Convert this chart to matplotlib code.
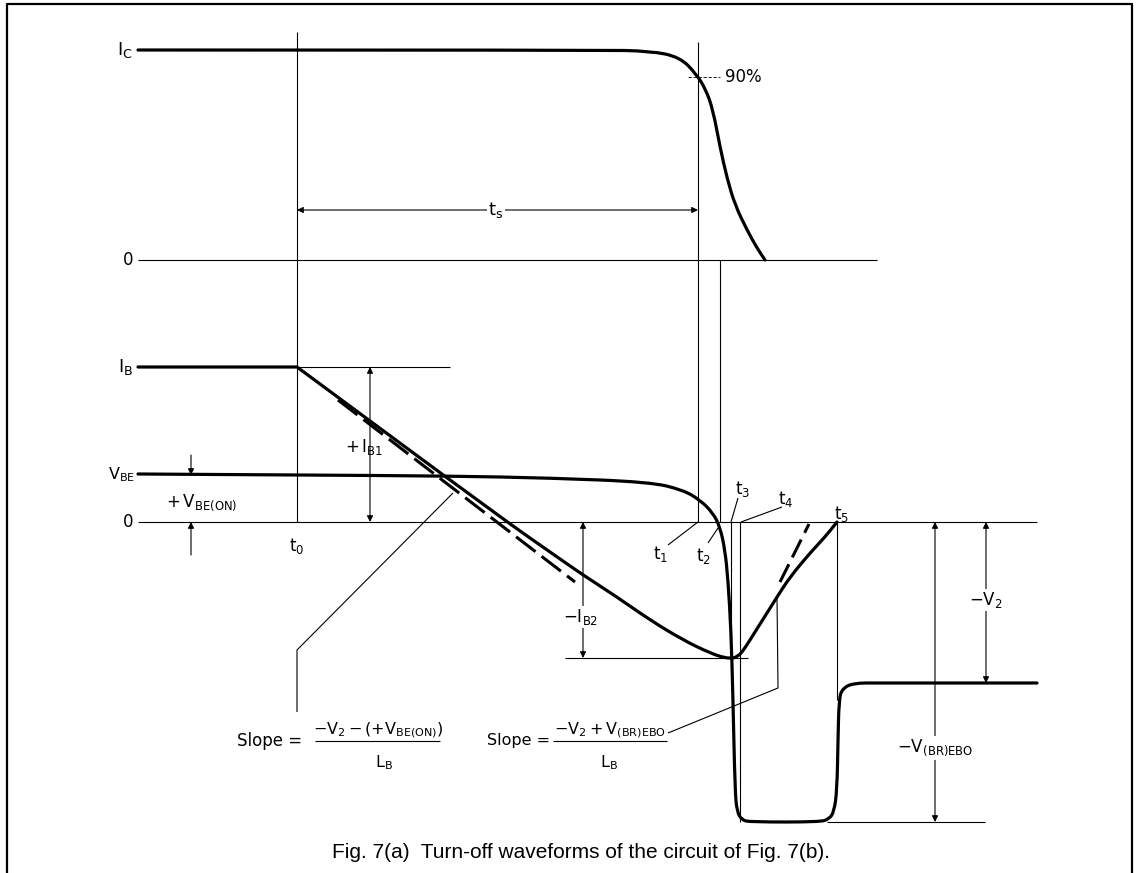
import numpy as np
import matplotlib
matplotlib.use("Agg")
from matplotlib import pyplot as plt
from matplotlib.path import Path
from matplotlib.patches import PathPatch

plt.rcParams["mathtext.fontset"] = "dejavusans"

# waveform outlines, (time, level) in drawing units
ic_wave = [(138, 50), (600, 50), (650, 51), (680, 57), (697, 75), (706, 90),
           (713, 110), (720, 147), (727, 178), (735, 205), (747, 230),
           (757, 248), (765, 260)]
ib_fall = [(138, 367), (297, 367), (297, 367), (500, 517), (550, 552), (583, 575),
           (617, 597), (650, 620), (683, 640), (710, 653), (725, 658), (733, 658)]
ib_rise = [(733, 658), (738, 657), (745, 648), (755, 632), (767, 613), (777, 597),
           (790, 577), (810, 553), (825, 537), (837, 522)]
vbe_wave = [(138, 474), (300, 475), (450, 476), (550, 478), (650, 482), (683, 490),
            (700, 500), (713, 513), (720, 527), (725, 550), (728, 580), (731, 630),
            (733, 700), (735, 790), (737, 812), (742, 820), (750, 822), (820, 822),
            (829, 819), (834, 812), (837, 790), (838, 740), (839, 700), (842, 689),
            (853, 683), (880, 683), (1037, 683)]
slope1 = [(338, 400), (575, 582)]
slope2 = [(780, 582), (809, 524)]

# reference levels and instants
t_marks = {"t0": 297, "t1": 698, "t2": 720, "t3": 731, "t4": 740, "t5": 837}
ic_on, ic_zero = 50, 260
ib_on, vbe_on, base_zero = 367, 475, 522
ib_peak_rev, v2_level, vbr_level = 658, 683, 822


def smooth(pts):
    pts = np.asarray(pts, float)
    verts, codes = [pts[0]], [Path.MOVETO]
    for i in range(1, len(pts) - 1):
        verts += [pts[i], (pts[i] + pts[i + 1]) / 2]
        codes += [Path.CURVE3, Path.CURVE3]
    verts.append(pts[-1])
    codes.append(Path.LINETO)
    return Path(verts, codes)


def thick(ax, pts):
    ax.add_patch(PathPatch(smooth(pts), fill=False, lw=2.3, ec="k",
                           capstyle="round", joinstyle="round", zorder=4))


def thin(ax, xs, ys, **kw):
    ax.plot(xs, ys, color="k", lw=0.8, solid_capstyle="butt", **kw)


def arrow(ax, a, b, style="<|-|>"):
    ax.annotate("", xy=b, xytext=a,
                arrowprops=dict(arrowstyle=style, lw=0.8, color="k",
                                mutation_scale=9, shrinkA=0, shrinkB=0))


def label(ax, x, y, s, size=12, ha="center", box=False):
    kw = {}
    if box:
        kw["bbox"] = dict(fc="white", ec="none", pad=1.0)
    ax.text(x, y, s, fontsize=size, ha=ha, va="center", zorder=6, **kw)


fig = plt.figure(figsize=(11.36, 8.73), dpi=100)
ax = fig.add_axes([0, 0, 1, 1])
ax.set_xlim(0, 1136)
ax.set_ylim(873, 0)
ax.axis("off")

# frame
ax.plot([7, 7, 1132, 1132], [873, 4, 4, 873], color="k", lw=1.6)

# zero lines and references
thin(ax, [138, 877], [ic_zero, ic_zero])
thin(ax, [138, 1037], [base_zero, base_zero])
thin(ax, [t_marks["t0"], 450], [ib_on, ib_on])
thin(ax, [565, 748], [ib_peak_rev, ib_peak_rev])
thin(ax, [827, 985], [vbr_level, vbr_level])

# time markers
thin(ax, [t_marks["t0"]] * 2, [32, base_zero])
thin(ax, [t_marks["t1"]] * 2, [42, base_zero])
thin(ax, [t_marks["t2"]] * 2, [ic_zero, base_zero])
thin(ax, [t_marks["t3"]] * 2, [base_zero, ib_peak_rev])
thin(ax, [t_marks["t4"]] * 2, [base_zero, vbr_level])
thin(ax, [t_marks["t5"]] * 2, [base_zero, 700])

# waveforms
thick(ax, ic_wave)
thick(ax, ib_fall)
thick(ax, ib_rise)
thick(ax, vbe_wave)
xs, ys = zip(*slope1)
ax.plot(xs, ys, color="k", lw=2.2, ls=(0, (8, 2.5)), zorder=4)
xs, ys = zip(*slope2)
ax.plot(xs, ys, color="k", lw=2.2, ls=(0, (6.5, 2.5)), zorder=4)

# 90 % point
ax.plot([688, 720], [77, 77], color="k", lw=0.6, ls=(0, (4, 2)))
label(ax, 725, 77, "90%", size=12, ha="left")

# storage time
arrow(ax, (t_marks["t0"], 210), (t_marks["t1"], 210))
label(ax, 496, 210, r"$\mathrm{t_s}$", size=13, box=True)

# left side level names
label(ax, 133, ic_on, r"$\mathrm{I_C}$", size=13, ha="right")
label(ax, 133, ic_zero, "0", size=12, ha="right")
label(ax, 133, ib_on, r"$\mathrm{I_B}$", size=13, ha="right")
label(ax, 135, vbe_on, r"$\mathrm{V_{BE}}$", size=11.5, ha="right")
label(ax, 133, base_zero, "0", size=12, ha="right")

# +VBE(ON)
arrow(ax, (191, 455), (191, vbe_on), "-|>")
arrow(ax, (191, 555), (191, base_zero), "-|>")
label(ax, 166, 503, r"$+\,\mathrm{V_{BE(ON)}}$", size=12, ha="left")

# +IB1 and -IB2
arrow(ax, (370, ib_on), (370, base_zero))
label(ax, 345, 447, r"$+\,\mathrm{I_{B1}}$", size=12, ha="left")
arrow(ax, (583, base_zero), (583, ib_peak_rev))
label(ax, 581, 617, r"$-\mathrm{I_{B2}}$", size=12, box=True)

# -V2 and -V(BR)EBO
arrow(ax, (986, base_zero), (986, v2_level))
label(ax, 986, 600, r"$-\mathrm{V_2}$", size=12, box=True)
arrow(ax, (935, base_zero), (935, vbr_level))
label(ax, 935, 748, r"$-\mathrm{V_{(BR)EBO}}$", size=12, box=True)

# instant labels with leaders
label(ax, 297, 546, r"$\mathrm{t_0}$", size=12)
thin(ax, [698, 668], [522, 545])
label(ax, 661, 554, r"$\mathrm{t_1}$", size=12)
thin(ax, [718, 708], [528, 543])
label(ax, 703, 556, r"$\mathrm{t_2}$", size=12)
thin(ax, [731, 738], [522, 498])
label(ax, 743, 489, r"$\mathrm{t_3}$", size=12)
thin(ax, [741, 782], [522, 507])
label(ax, 786, 499, r"$\mathrm{t_4}$", size=12)
label(ax, 842, 514, r"$\mathrm{t_5}$", size=12)

# slope leaders
thin(ax, [453, 297, 297], [493, 650, 712])
thin(ax, [777, 778, 668], [597, 688, 733])

# slope formulas
label(ax, 237, 741, "Slope =", size=12, ha="left")
label(ax, 378, 730, r"$-\mathrm{V_2}-(+\mathrm{V_{BE(ON)}})$", size=11.5)
thin(ax, [315, 440], [741, 741])
label(ax, 384, 763, r"$\mathrm{L_B}$", size=11.5)

label(ax, 487, 741, "Slope =", size=11.5, ha="left")
label(ax, 610, 730, r"$-\mathrm{V_2}+\mathrm{V_{(BR)EBO}}$", size=11.5)
thin(ax, [553, 667], [741, 741])
label(ax, 609, 763, r"$\mathrm{L_B}$", size=11.5)

ax.text(581, 852, "Fig. 7(a)  Turn-off waveforms of the circuit of Fig. 7(b).",
        fontsize=15, family="Liberation Sans", ha="center", va="center")

fig.savefig("out.png", dpi=100)
